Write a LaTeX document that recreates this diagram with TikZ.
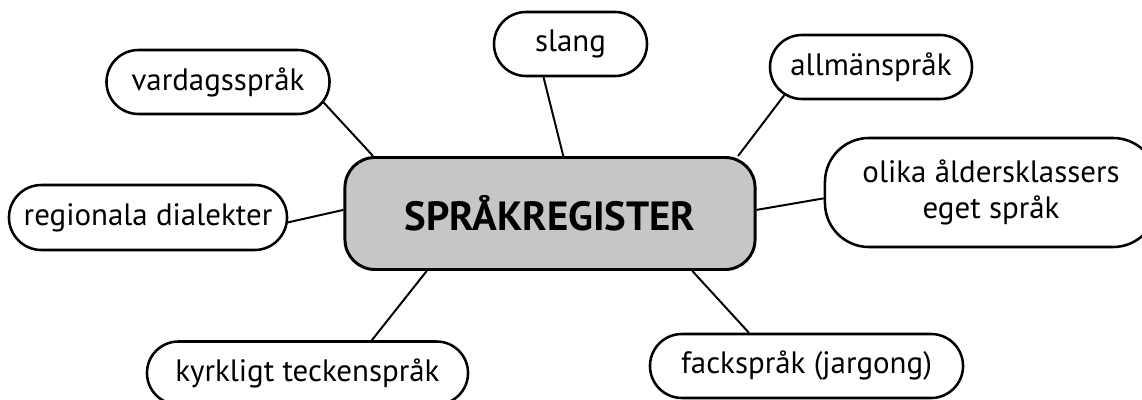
\documentclass[tikz,border=0pt]{standalone}
\usepackage{fontspec}
\setmainfont{PT Sans}
\usetikzlibrary{shapes.misc,backgrounds}
\definecolor{hubgray}{HTML}{C6C6C6}

\begin{document}
\begin{tikzpicture}[x=0.025cm,y=-0.025cm]
\tikzstyle{every node}+=[inner sep=0pt]
\tikzstyle{pill}=[draw=black,line width=1.8pt,fill=white,rounded rectangle,minimum height=1.6cm,align=center,font=\fontsize{22}{26}\selectfont]
\tikzstyle{hub}=[draw=black,line width=2.1pt,fill=hubgray,rounded corners=0.75cm,minimum width=10.25cm,minimum height=2.8cm,font=\fontsize{29}{32}\selectfont\bfseries]
\tikzstyle{link}=[black,line width=1.4pt]
\useasboundingbox (0,0) rectangle (1142,400);
\node [hub] (register) at (550,213.5) {SPRÅKREGISTER};
\node [pill,minimum width=3.825cm] (slang) at (570.5,44) {slang};
\node [pill,minimum width=5.575cm] (vardag) at (218,82) {vardagsspråk};
\node [pill,minimum width=5.05cm] (allman) at (871,67) {allmänspråk};
\node [pill,minimum width=6.95cm,minimum height=1.625cm] (dialekt) at (148,217.5) {regionala dialekter};
\node [pill,rectangle,rounded corners=1.1cm,minimum width=8.3cm,minimum height=2.725cm] (alder) at (991,192.5) {olika åldersklassers\\eget språk};
\node [pill,minimum width=8.025cm,minimum height=1.575cm] (kyrka) at (307.5,373) {kyrkligt teckenspråk};
\node [pill,minimum width=7.825cm] (fack) at (806.5,366) {fackspråk (jargong)};
\begin{scope}[on background layer]
\draw [link] (vardag.349) -- (register.162);
\draw [link] (slang.231) -- (register.77);
\draw [link] (allman.198) -- (register.17);
\draw [link] (dialekt.358) -- (register.179);
\draw [link] (alder.182) -- (register.1);
\draw [link] (fack.150) -- (register.338);
\draw [link] (kyrka.27.5) -- (register.205);
\end{scope}
\end{tikzpicture}
\end{document}
